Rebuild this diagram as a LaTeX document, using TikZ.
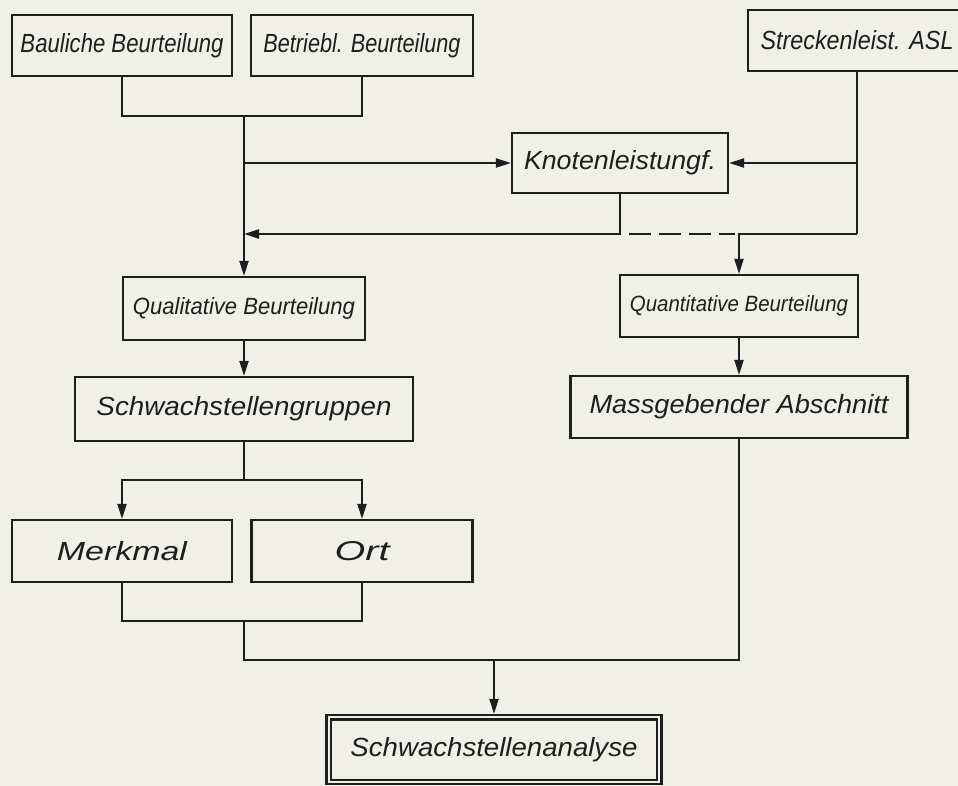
\documentclass[tikz,border=0pt]{standalone}
\usepackage{fontspec}
\setmainfont{Liberation Sans}
\usetikzlibrary{arrows.meta,calc}
\definecolor{paper}{RGB}{240,239,232}
\definecolor{ink}{RGB}{30,30,30}
\newcommand{\hw}[3]{\resizebox{#1pt}{#2pt}{\itshape #3}}
\begin{document}
\begin{tikzpicture}[x=1pt,y=-1pt,
  box/.style={draw=ink, line width=2.2pt, inner sep=0pt, minimum height=62pt, text=ink},
  conn/.style={draw=ink, line width=2.2pt},
  ar/.style={-{Triangle[length=15pt,width=9pt]}}]
\fill[paper] (0,0) rectangle (958,786);
\useasboundingbox (0,0) rectangle (958,786);

\node[box, minimum width=220pt, minimum height=61pt] (baul) at (122,45.5) {\hw{203}{19}{Bauliche Beurteilung}};
\node[box, minimum width=222pt, minimum height=61pt] (betr) at (362,45.5) {\hw{197}{19}{Betriebl. Beurteilung}};
\node[box, minimum width=218pt, minimum height=61pt] (streck) at (857,40.5) {\hw{193}{19}{Streckenleist. ASL}\hspace{12pt}};
\node[box, minimum width=216pt, minimum height=60pt] (knot) at (620,163) {\hw{192}{19}{Knotenleistungf.}};
\node[box, minimum width=242pt, minimum height=63pt] (qual) at (244,308.5) {\hw{222}{17}{Qualitative Beurteilung}};
\node[box, minimum width=238pt] (quant) at (739,306) {\hw{218}{16}{Quantitative Beurteilung}};
\node[box, minimum width=338pt, minimum height=64pt] (gruppen) at (244,409) {\hw{295}{19}{Schwachstellengruppen}};
\node[box, minimum width=337pt] (mass) at (739,407) {\hw{299}{19}{Massgebender Abschnitt}};
\node[box, minimum width=220pt] (merk) at (122,551) {\hw{130}{19}{Merkmal}};
\node[box, minimum width=221pt] (ort) at (362,551) {\hw{55}{19}{Ort}};
\node[box, minimum width=335pt, minimum height=69pt] (ana) at (494,749.5) {\hw{287}{19}{Schwachstellenanalyse}};
\draw[ink, line width=2.2pt] ($(ana.north west)+(5.5,5.5)$) rectangle ($(ana.south east)+(-5.5,-5.5)$);

\coordinate (j1) at (244,116);
\coordinate (cj) at (244,234);
\coordinate (s2) at (857,234);
\coordinate (g1) at (244,480);
\coordinate (m1) at (244,621);
\coordinate (m2) at (244,660);

\draw[conn] (baul.south) |- (j1) -| (betr.south);
\draw[conn,ar] (j1) -- (qual.north);
\draw[conn,ar] (j1 |- knot.west) -- (knot.west);
\draw[conn,ar] (knot.south) |- (cj);
\draw[conn] (streck.south) -- (s2);
\draw[conn,ar] (streck.south |- knot.east) -- (knot.east);
\draw[conn,ar] (s2) -| (quant.north);
\draw[conn, dash pattern=on 22pt off 8pt] ($(knot.south |- s2)+(9,0)$) -- ($(quant.north |- s2)+(-4,0)$);
\draw[conn,ar] (quant.south) -- (mass.north);
\draw[conn,ar] (qual.south) -- (gruppen.north);
\draw[conn] (gruppen.south) -- (g1);
\draw[conn,ar] (g1) -| (merk.north);
\draw[conn,ar] (g1) -| (ort.north);
\draw[conn] (merk.south) |- (m1) -| (ort.south);
\draw[conn] (m1) -- (m2) -| (mass.south);
\draw[conn,ar] (ana.north |- m2) -- (ana.north);
\end{tikzpicture}
\end{document}
